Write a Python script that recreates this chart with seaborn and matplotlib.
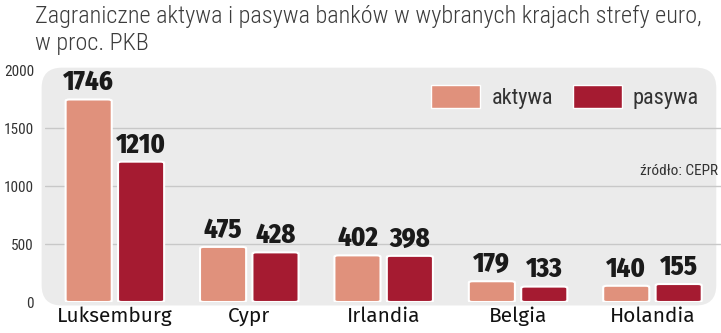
import matplotlib
matplotlib.use("Agg")
import matplotlib.pyplot as plt
import seaborn as sns
import pandas as pd
from matplotlib.patches import FancyBboxPatch, Patch

countries = ["Luksemburg", "Cypr", "Irlandia", "Belgia", "Holandia"]
aktywa = [1746, 475, 402, 179, 140]
pasywa = [1210, 428, 398, 133, 155]
series = ["aktywa", "pasywa"]
yticks = [0, 500, 1000, 1500, 2000]
title = "Zagraniczne aktywa i pasywa banków w wybranych krajach strefy euro,\nw proc. PKB"
source = "źródło: CEPR"

colors = {"aktywa": "#e0917c", "pasywa": "#a51b31"}

df = pd.DataFrame({
    "kraj": countries * 2,
    "seria": ["aktywa"] * len(countries) + ["pasywa"] * len(countries),
    "wartosc": aktywa + pasywa,
})

sns.set_theme(style="white")
LIGHT = ["Roboto Condensed", "Asap Condensed", "DejaVu Sans"]
BOLD = ["Fira Sans Condensed", "Barlow Semi Condensed", "Roboto Condensed", "DejaVu Sans"]
REG = ["Fira Sans", "Asap", "DejaVu Sans"]
plt.rcParams["font.family"] = REG

fig = plt.figure(figsize=(7.21, 3.33), dpi=100)
ax = fig.add_axes([45 / 721, 31 / 333, 676 / 721, 232 / 333])

sns.barplot(data=df, x="kraj", y="wartosc", hue="seria", palette=colors, saturation=1,
            width=0.78, gap=0.12, ax=ax, legend=False, zorder=3)

bg = FancyBboxPatch((-0.005, -0.015), 0.998, 1.025, boxstyle="round,pad=0,rounding_size=0.03",
                    transform=ax.transAxes, facecolor="#ebebeb", edgecolor="none",
                    zorder=0, mutation_aspect=676 / 232, clip_on=False)
ax.add_patch(bg)

bars = [p for p in list(ax.patches) if p is not bg]
for p in bars:
    x, y = p.get_x(), p.get_y()
    w, h = p.get_width(), p.get_height()
    fc = p.get_facecolor()
    p.set_visible(False)
    fb = FancyBboxPatch((x, y), w, h, boxstyle="round,pad=0,rounding_size=0.03",
                        mutation_aspect=400, facecolor=fc, edgecolor="white",
                        linewidth=1.5, zorder=3)
    ax.add_patch(fb)
    ax.text(x + w / 2, y + h + 30, f"{int(round(h))}", ha="center", va="bottom",
            fontsize=19, fontweight=800, color="#1a1a1a", zorder=4, family=BOLD)

ax.set_xlim(-0.52, 4.51)
ax.set_ylim(0, 2000)
ax.set_yticks(yticks)
ax.set_yticklabels([str(t) for t in yticks], fontsize=11, color="#333333", family=LIGHT)
ax.tick_params(axis="y", length=0, pad=8)
ax.tick_params(axis="x", length=0, pad=3)
for lbl in ax.get_xticklabels():
    lbl.set_fontsize(15)
    lbl.set_color("#111111")
ax.set_xlabel("")
ax.set_ylabel("")
for s in ax.spines.values():
    s.set_visible(False)
ax.set_facecolor("none")
for t in [500, 1000, 1500]:
    ax.axhline(t, color="#c8c8c8", linewidth=1, zorder=1)

handles = [Patch(facecolor=colors[s], edgecolor="white", label=s) for s in series]
leg = ax.legend(handles=handles, loc="upper right", bbox_to_anchor=(0.997, 1.02), ncol=2,
                frameon=False, prop={"family": LIGHT, "size": 16}, handlelength=2.2,
                handleheight=1.2, columnspacing=0.9, handletextpad=0.5)
for t in leg.get_texts():
    t.set_color("#333333")

ax.text(0.995, 0.565, source, transform=ax.transAxes, ha="right", va="center",
        fontsize=11, color="#333333", family=LIGHT)

fig.text(35 / 721, 1 - 5 / 333, title, ha="left", va="top", fontsize=17.5,
         color="#3c3c3c", linespacing=1.2, family=LIGHT, fontweight="light")

fig.savefig("out.png", dpi=100)
